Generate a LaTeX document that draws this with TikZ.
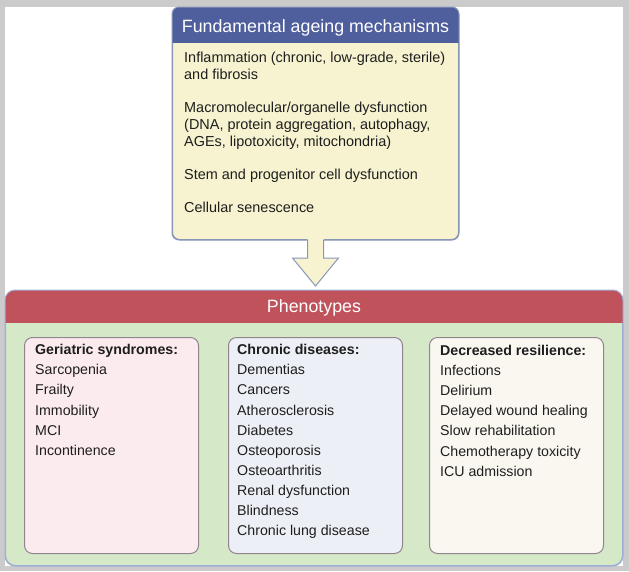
\documentclass[tikz,border=0pt]{standalone}
\usepackage{fontspec}
\setmainfont{Liberation Sans}
\usepackage{xcolor}
\usepackage{tikz}
\usetikzlibrary{calc}
\definecolor{FrameGray}{RGB}{203,203,203}
\definecolor{AgeBlue}{RGB}{79,95,158}
\definecolor{AgeCream}{RGB}{247,243,208}
\definecolor{AgeEdge}{RGB}{138,150,184}
\definecolor{PhenoRed}{RGB}{192,82,92}
\definecolor{PhenoGreen}{RGB}{213,233,200}
\definecolor{PhenoEdge}{RGB}{160,176,212}
\definecolor{GeriPink}{RGB}{251,235,238}
\definecolor{ChronGrey}{RGB}{236,239,245}
\definecolor{ResilIvory}{RGB}{249,247,240}
\definecolor{BoxEdge}{RGB}{146,132,141}
\definecolor{InkDark}{RGB}{30,30,30}

\begin{document}
\begin{tikzpicture}[x=1pt,y=-1pt,
    titletext/.style={font=\fontsize{17.8}{20}\selectfont, text=white, anchor=base, inner sep=0},
    bodytext/.style={font=\fontsize{14.2}{17}\selectfont, text=InkDark, anchor=base west, inner sep=0},
    mechtext/.style={bodytext, font=\fontsize{14.45}{17}\selectfont},
    headtext/.style={bodytext, font=\fontsize{14.2}{17}\selectfont\bfseries},
    listbox/.style={draw=BoxEdge, line width=1, rounded corners=8, minimum width=174, minimum height=216, anchor=north west}]
  % frame
  \fill[FrameGray] (0,0) rectangle (629,571);
  \fill[white] (5,7) rectangle (623,566);

  % mechanisms box
  \node[draw=AgeEdge, fill=AgeCream, line width=1, rounded corners=7, minimum width=286, minimum height=232, anchor=north west] (mech) at (172,7) {};
  \begin{scope}
    \clip[rounded corners=7] (mech.south west) rectangle (mech.north east);
    \fill[AgeBlue] (mech.north west) rectangle ($(mech.north east)+(0,36)$);
  \end{scope}
  \draw[AgeEdge, line width=1, rounded corners=7] (mech.south west) rectangle (mech.north east);
  \node[titletext] (mechtitle) at ($(mech.north)+(0,25.5)$) {Fundamental ageing mechanisms};
  \foreach \y/\txt [count=\i] in {62.5/{Inflammation (chronic, low-grade, sterile)}, 79.5/and fibrosis,
      112.5/{Macromolecular/organelle dysfunction}, 129.5/{(DNA, protein aggregation, autophagy,},
      146.5/{AGEs, lipotoxicity, mitochondria)}, 179.5/Stem and progenitor cell dysfunction,
      212.5/Cellular senescence}
    \node[mechtext] (mechline\i) at (184,\y) {\txt};

  % phenotypes panel
  \node[draw=PhenoEdge, fill=PhenoGreen, line width=1, rounded corners=10, minimum width=617, minimum height=275, anchor=north west] (pheno) at (5,290) {};
  \begin{scope}
    \clip[rounded corners=10] (pheno.south west) rectangle (pheno.north east);
    \fill[PhenoRed] (pheno.north west) rectangle ($(pheno.north east)+(0,33)$);
  \end{scope}
  \draw[PhenoEdge, line width=1, rounded corners=10] (pheno.south west) rectangle (pheno.north east);
  \node[titletext] (phenotitle) at ($(pheno.north)+(0,22)$) {Phenotypes};

  % block arrow
  \coordinate (tip) at ($(mech.south)+(0,46)$);
  \fill[AgeCream] ($(mech.south)+(-8,-1.5)$) |- ($(tip)+(-23,-28)$) -- (tip) -- ($(tip)+(23,-28)$) -| ($(mech.south)+(8,-1.5)$) -- cycle;
  \draw[AgeEdge, line width=1] ($(mech.south)+(-8,0)$) |- ($(tip)+(-23,-28)$) -- (tip) -- ($(tip)+(23,-28)$) -| ($(mech.south)+(8,0)$);

  % geriatric syndromes
  \node[listbox, fill=GeriPink] (geri) at (24,337) {};
  \node[headtext] (gerihead) at (35,354.7) {Geriatric syndromes:};
  \foreach \txt [count=\i] in {Sarcopenia, Frailty, Immobility, MCI, Incontinence}
    \node[bodytext] (geri\i) at (35,{354.7+20.1*\i}) {\txt};

  % chronic diseases
  \node[listbox, fill=ChronGrey] (chron) at (228,337) {};
  \node[headtext] (chronhead) at (237,354.7) {Chronic diseases:};
  \foreach \txt [count=\i] in {Dementias, Cancers, Atherosclerosis, Diabetes, Osteoporosis,
      Osteoarthritis, Renal dysfunction, Blindness, Chronic lung disease}
    \node[bodytext] (chron\i) at (237,{354.7+20.1*\i}) {\txt};

  % decreased resilience
  \node[listbox, fill=ResilIvory] (resil) at (429,337) {};
  \node[headtext] (resilhead) at (440,355.5) {Decreased resilience:};
  \foreach \txt [count=\i] in {Infections, Delirium, Delayed wound healing, Slow rehabilitation,
      Chemotherapy toxicity, ICU admission}
    \node[bodytext] (resil\i) at (440,{355.5+20.1*\i}) {\txt};
\end{tikzpicture}
\end{document}
